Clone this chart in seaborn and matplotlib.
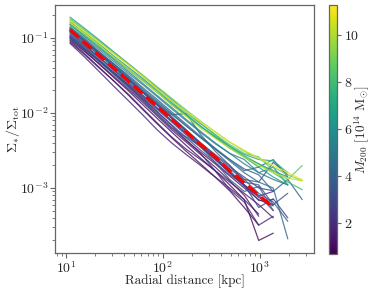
import numpy as np
import pandas as pd
import matplotlib
matplotlib.use("Agg")
import matplotlib.pyplot as plt
import seaborn as sns
from matplotlib.colors import Normalize
from matplotlib.cm import ScalarMappable

# ---------------- data ----------------
radius_kpc = [11.0, 15.5, 21.9, 30.9, 43.7, 61.7, 87.1, 123, 174, 245,
              347, 490, 692, 977, 1380, 1950, 2750]

# M200 of each cluster [1e14 Msun]
m200 = [11.0, 10.3, 8.5, 7.8, 6.5, 5.5, 4.5, 4.2, 3.8, 3.5,
        0.9, 1.2, 1.5, 1.8, 2.0, 2.3, 2.6, 2.9, 3.2, 3.4,
        1.0, 1.4, 2.1, 5.0, 6.0, 9.0, 7.0, 4.0, 3.0, 1.6]

profiles = [
    [0.17, 0.122, 0.087, 0.062, 0.044, 0.031, 0.021, 0.0145, 0.0104, 0.0076, 0.0056, 0.0041, 0.0032, 0.0025, 0.0020, 0.0016, 0.0013],
    [0.16, 0.115, 0.080, 0.056, 0.039, 0.027, 0.019, 0.0128, 0.0090, 0.0063, 0.0046, 0.0034, 0.0026, 0.0020, 0.0016, 0.00135, 0.00125],
    [0.18, 0.13, 0.092, 0.064, 0.045, 0.031, 0.021, 0.0145, 0.010, 0.0072, 0.0052, 0.0038, 0.0029, 0.0026, 0.0017, 0.0013, 0.0020],
    [0.15, 0.108, 0.076, 0.054, 0.038, 0.027, 0.019, 0.013, 0.0093, 0.0066, 0.0049, 0.0036, 0.0027, 0.0021, 0.0016, 0.0012, 0.00095],
    [0.19, 0.135, 0.095, 0.066, 0.046, 0.032, 0.022, 0.0152, 0.0105, 0.0073, 0.0051, 0.0036, 0.0026, 0.0019, 0.0014, 0.0011],
    [0.14, 0.10, 0.070, 0.049, 0.034, 0.024, 0.0165, 0.0114, 0.0079, 0.0055, 0.0039, 0.0029, 0.0024, 0.0016, 0.0019, 0.0011],
    [0.12, 0.085, 0.060, 0.042, 0.029, 0.020, 0.014, 0.0096, 0.0067, 0.0047, 0.0033, 0.0024, 0.0017, 0.0019, 0.0024, 0.0014],
    [0.13, 0.092, 0.064, 0.045, 0.031, 0.021, 0.0145, 0.0099, 0.0068, 0.0047, 0.0033, 0.0023, 0.0016, 0.0012, 0.0010, 0.00021],
    [0.11, 0.078, 0.055, 0.039, 0.027, 0.019, 0.013, 0.0095, 0.0098, 0.0052, 0.0031, 0.0020, 0.0013, 0.00085, 0.00065, 0.00036],
    [0.105, 0.072, 0.049, 0.033, 0.022, 0.0145, 0.0095, 0.0063, 0.0048, 0.0036, 0.0022, 0.0013, 0.0009, 0.00105, 0.0005],
    [0.10, 0.068, 0.045, 0.030, 0.020, 0.0130, 0.0085, 0.0056, 0.0037, 0.0025, 0.0017, 0.0011, 0.00070, 0.00020, 0.00025],
    [0.095, 0.066, 0.046, 0.031, 0.021, 0.014, 0.0092, 0.0060, 0.0041, 0.0028, 0.0019, 0.00125, 0.00080, 0.00042],
    [0.088, 0.060, 0.040, 0.027, 0.018, 0.0115, 0.0074, 0.0048, 0.0033, 0.0024, 0.0017, 0.0012, 0.00085, 0.00060, 0.00040],
    [0.11, 0.076, 0.052, 0.035, 0.024, 0.016, 0.0105, 0.0068, 0.0044, 0.0029, 0.0017, 0.00095, 0.00065, 0.00032, 0.00042],
    [0.12, 0.082, 0.056, 0.038, 0.026, 0.0175, 0.0118, 0.0080, 0.0054, 0.0036, 0.0024, 0.0016, 0.0011, 0.00075, 0.00060],
    [0.13, 0.090, 0.062, 0.042, 0.028, 0.019, 0.0128, 0.0086, 0.0058, 0.0039, 0.0026, 0.0017, 0.0011, 0.00068, 0.00070],
    [0.10, 0.070, 0.049, 0.034, 0.023, 0.0155, 0.0104, 0.0070, 0.0047, 0.0032, 0.0022, 0.0015, 0.0011, 0.00055, 0.00072, 0.00040],
    [0.14, 0.097, 0.066, 0.045, 0.030, 0.020, 0.0135, 0.0090, 0.0060, 0.0040, 0.0027, 0.0019, 0.0014, 0.0010, 0.00092],
    [0.115, 0.080, 0.055, 0.037, 0.025, 0.017, 0.0115, 0.0078, 0.0053, 0.0036, 0.0025, 0.0018, 0.0013, 0.0012, 0.0022, 0.0015],
    [0.125, 0.087, 0.060, 0.041, 0.028, 0.019, 0.0128, 0.0087, 0.0059, 0.0040, 0.0028, 0.0020, 0.0012, 0.0011, 0.0006, 0.00085],
    [0.092, 0.062, 0.041, 0.027, 0.0175, 0.0112, 0.0072, 0.0047, 0.0031, 0.0021, 0.0014, 0.00092, 0.00055, 0.00032],
    [0.105, 0.073, 0.050, 0.034, 0.023, 0.0150, 0.0098, 0.0064, 0.0043, 0.0030, 0.0021, 0.00145, 0.0010, 0.00070, 0.00058],
    [0.135, 0.093, 0.063, 0.043, 0.029, 0.0195, 0.0130, 0.0086, 0.0057, 0.0038, 0.0025, 0.0016, 0.00105, 0.00078, 0.0009],
    [0.15, 0.105, 0.074, 0.052, 0.036, 0.025, 0.0172, 0.0119, 0.0082, 0.0057, 0.0040, 0.0029, 0.0021, 0.0016, 0.0013, 0.0011],
    [0.165, 0.118, 0.083, 0.058, 0.041, 0.029, 0.020, 0.0138, 0.0096, 0.0067, 0.0047, 0.0034, 0.0026, 0.0021, 0.0017, 0.0014],
    [0.175, 0.125, 0.089, 0.063, 0.045, 0.032, 0.0225, 0.0158, 0.0110, 0.0078, 0.0056, 0.0041, 0.0031, 0.0025, 0.0019, 0.0015, 0.00125],
    [0.155, 0.11, 0.078, 0.055, 0.039, 0.0275, 0.019, 0.0132, 0.0093, 0.0066, 0.0048, 0.0036, 0.0028, 0.0024, 0.0023, 0.0016],
    [0.13, 0.092, 0.065, 0.046, 0.032, 0.022, 0.0152, 0.0104, 0.0071, 0.0049, 0.0034, 0.0024, 0.0018, 0.0015, 0.0009, 0.0013, 0.0007],
    [0.10, 0.071, 0.050, 0.035, 0.024, 0.0165, 0.0112, 0.0076, 0.0051, 0.0035, 0.0024, 0.0016, 0.0011, 0.0008, 0.0005],
    [0.085, 0.056, 0.036, 0.023, 0.0148, 0.0095, 0.0060, 0.0040, 0.0028, 0.0020, 0.0014, 0.0010, 0.0007, 0.00045],
]

# stacked mean profile
mean_radius_kpc = [11.0, 15.5, 21.9, 30.9, 43.7, 61.7, 87.1, 123, 174, 245, 347, 490, 692, 977, 1290]
mean_profile = [0.128, 0.087, 0.059, 0.040, 0.027, 0.018, 0.0123, 0.0083, 0.0056, 0.0038,
                0.0026, 0.0017, 0.00118, 0.0008, 0.00059]

# ---------------- build long table ----------------
rows = []
for i, (m, prof) in enumerate(zip(m200, profiles)):
    for r, v in zip(radius_kpc, prof):
        rows.append({"cluster": i, "R": r, "frac": v, "M200": m})
df = pd.DataFrame(rows)
df_mean = pd.DataFrame({"R": mean_radius_kpc, "frac": mean_profile})

# ---------------- style ----------------
sns.set_style("ticks")
plt.rcParams.update({
    "font.family": ["cmr10", "DejaVu Serif"],
    "mathtext.fontset": "cm",
    "axes.formatter.use_mathtext": True,
    "axes.edgecolor": "0.4",
    "axes.linewidth": 0.9,
    "xtick.color": "0.4",
    "ytick.color": "0.4",
    "xtick.labelcolor": "0.15",
    "ytick.labelcolor": "0.15",
    "font.size": 10,
})

fig = plt.figure(figsize=(3.74, 2.88), dpi=100)
ax = fig.add_axes([0.147, 0.1215, 0.693, 0.861])
cax = fig.add_axes([0.880, 0.118, 0.022, 0.865])

norm = Normalize(vmin=0.7, vmax=11.3)
sns.lineplot(data=df, x="R", y="frac", hue="M200", units="cluster", estimator=None,
             palette="viridis", hue_norm=norm, legend=False, ax=ax,
             linewidth=0.9, alpha=0.8, sort=False)
sns.lineplot(data=df_mean, x="R", y="frac", color="red", linestyle="--",
             linewidth=2.3, ax=ax, legend=False, sort=False)

ax.set_xscale("log")
ax.set_yscale("log")
ax.set_xlim(7.7, 3650)
ax.set_ylim(1.36e-4, 0.275)
ax.set_xlabel("Radial distance [kpc]", fontsize=9.5, va="center")
ax.xaxis.set_label_coords(0.5, -0.115)
ax.set_ylabel(r"$\Sigma_{*}/\Sigma_{\rm tot}$", fontsize=10, va="center")
ax.yaxis.set_label_coords(-0.162, 0.5)
ax.tick_params(axis="both", which="major", labelsize=10, length=3.5, width=0.8, pad=1.5)
ax.tick_params(axis="both", which="minor", length=2, width=0.6)

sm = ScalarMappable(norm=norm, cmap="viridis")
cb = fig.colorbar(sm, cax=cax)
cb.set_ticks([2, 4, 6, 8, 10])
cb.ax.set_ylabel(r"$M_{200}$ [$10^{14}$ M$_{\odot}$]", fontsize=9.5, va="center", rotation=90)
cb.ax.yaxis.set_label_coords(4.0, 0.5)
cb.ax.tick_params(labelsize=10, length=3, width=0.8, pad=1.5)
cb.outline.set_edgecolor("0.4")

fig.savefig("out.png", dpi=100)
